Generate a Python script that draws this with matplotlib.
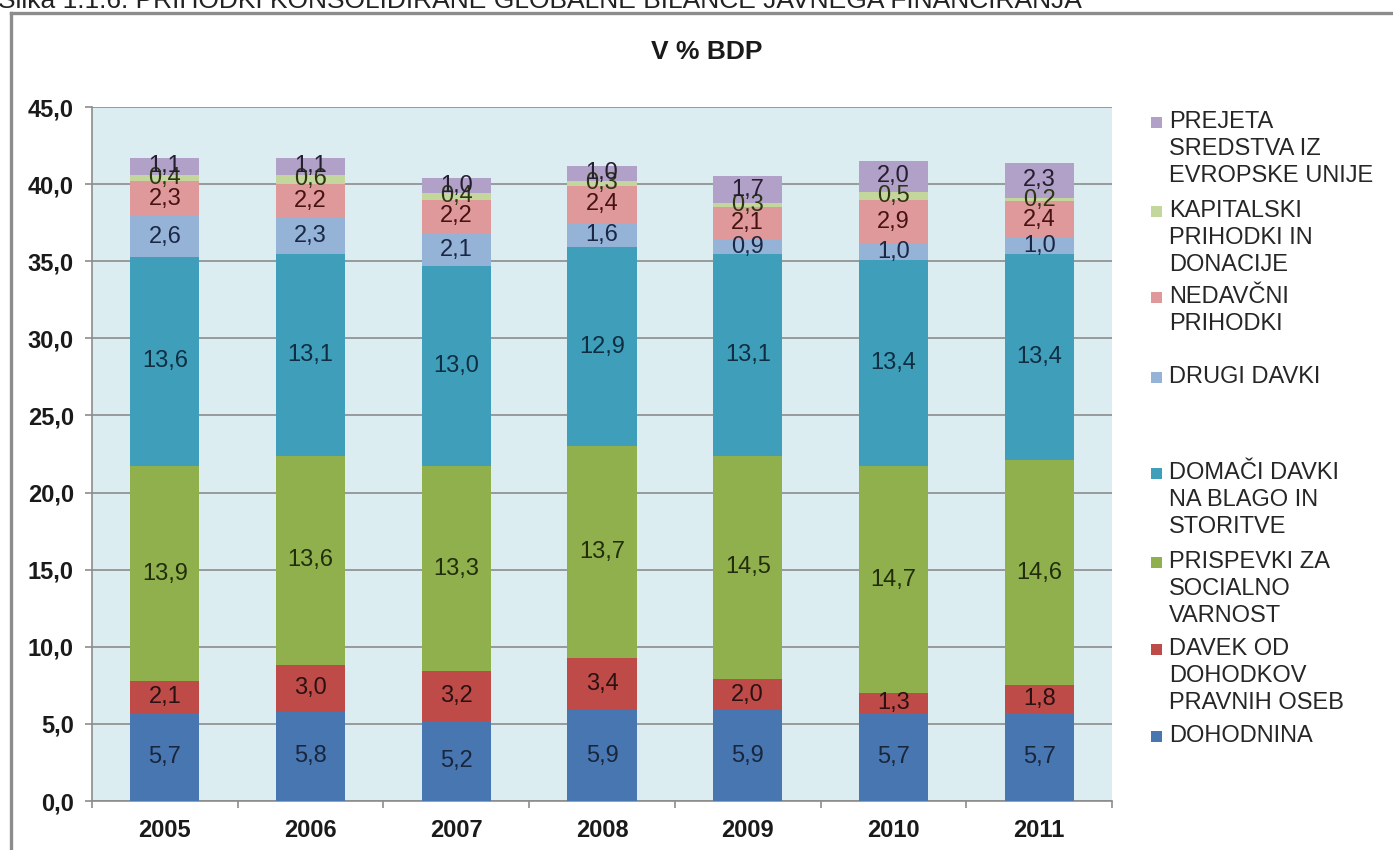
import matplotlib
matplotlib.use('Agg')
import matplotlib.pyplot as plt
from matplotlib.lines import Line2D
from matplotlib.patches import Rectangle
import numpy as np

plt.rcParams['font.family'] = ['Liberation Sans', 'DejaVu Sans']

years = ['2005', '2006', '2007', '2008', '2009', '2010', '2011']

# series, bottom to top
dohodnina = [5.7, 5.8, 5.2, 5.9, 5.9, 5.7, 5.7]
davek_pravnih = [2.1, 3.0, 3.2, 3.4, 2.0, 1.3, 1.8]
prispevki = [13.9, 13.6, 13.3, 13.7, 14.5, 14.7, 14.6]
domaci_davki = [13.6, 13.1, 13.0, 12.9, 13.1, 13.4, 13.4]
drugi_davki = [2.6, 2.3, 2.1, 1.6, 0.9, 1.0, 1.0]
nedavcni = [2.3, 2.2, 2.2, 2.4, 2.1, 2.9, 2.4]
kapitalski = [0.4, 0.6, 0.4, 0.3, 0.3, 0.5, 0.2]
eu_sredstva = [1.1, 1.1, 1.0, 1.0, 1.7, 2.0, 2.3]

series_names = [
    'DOHODNINA',
    'DAVEK OD\nDOHODKOV\nPRAVNIH OSEB',
    'PRISPEVKI ZA\nSOCIALNO\nVARNOST',
    'DOMAČI DAVKI\nNA BLAGO IN\nSTORITVE',
    'DRUGI DAVKI',
    'NEDAVČNI\nPRIHODKI',
    'KAPITALSKI\nPRIHODKI IN\nDONACIJE',
    'PREJETA\nSREDSTVA IZ\nEVROPSKE UNIJE',
]
series = [dohodnina, davek_pravnih, prispevki, domaci_davki,
          drugi_davki, nedavcni, kapitalski, eu_sredstva]

colors = ['#4876b0', '#be4b48', '#8fb04c', '#3f9fbb',
          '#95b3d7', '#e0999a', '#c3d69b', '#b1a0c7']
label_colors = ['#18263e', '#2a1212', '#222d0c', '#102e42',
                '#1a2846', '#461212', '#2c3612', '#251e30']

W, H = 1393, 850
fig = plt.figure(figsize=(W / 100, H / 100), dpi=100, facecolor='white')

# heading cut off at the top of the page
fig.text(-2 / W, 1 - 8 / H,
         'Slika 1.1.6: PRIHODKI KONSOLIDIRANE GLOBALNE BILANCE JAVNEGA FINANCIRANJA',
         fontsize=19, color='#222222', va='baseline', ha='left')

# chart frame
fig.add_artist(Line2D([11 / W, 11 / W], [0, 1 - 13 / H], color='#8c8c8c', lw=2.4))
fig.add_artist(Line2D([11 / W, 1], [1 - 13 / H, 1 - 13 / H], color='#8c8c8c', lw=2.4))

ax = fig.add_axes([92 / W, 1 - 801 / H, (1112 - 92) / W, (801 - 107) / H])
ax.set_facecolor('#dcedf2')

x = np.arange(len(years))
bottom = np.zeros(len(years))
for vals, name, c, lc in zip(series, series_names, colors, label_colors):
    bars = ax.bar(x, vals, width=0.475, bottom=bottom, color=c, label=name, zorder=3)
    ax.bar_label(bars, labels=[f'{v:.1f}'.replace('.', ',') for v in vals],
                 label_type='center', fontsize=17, color=lc, zorder=4)
    bottom += np.array(vals)

ax.set_xlim(-0.5, len(years) - 0.5)
ax.set_ylim(0, 45)
ax.set_yticks(np.arange(0, 46, 5))
ax.set_yticklabels([f'{v:.1f}'.replace('.', ',') for v in np.arange(0, 46, 5)],
                   fontsize=17, fontweight='bold', color='#1a1a1a')
ax.set_xticks(x)
ax.set_xticklabels(years, fontsize=17, fontweight='bold', color='#1a1a1a')
ax.set_xticks(np.arange(-0.5, len(years)), minor=True)
ax.tick_params(axis='x', which='major', length=0, pad=13)
ax.tick_params(axis='x', which='minor', length=5, color='#8c8c8c', width=1.2)
ax.tick_params(axis='y', length=5, color='#8c8c8c', width=1.2, pad=8)
ax.yaxis.grid(True, color='#8c8c8c', lw=1.2, zorder=1)
ax.set_axisbelow(True)
for s in ['top', 'right']:
    ax.spines[s].set_visible(False)
for s in ['left', 'bottom']:
    ax.spines[s].set_color('#8c8c8c')
    ax.spines[s].set_linewidth(1.2)

fig.text(707 / W, 1 - 52 / H, 'V % BDP', fontsize=19, fontweight='bold',
         ha='center', va='center', color='#1a1a1a')

# legend, top entry first
legend_y = [122, 211, 297, 377, 473, 562, 649, 736]
line_h = 27
for name, c, y0 in zip(series_names[::-1], colors[::-1], legend_y):
    fig.add_artist(Rectangle((1151 / W, 1 - (y0 + 6) / H), 11 / W, 11 / H,
                             facecolor=c, edgecolor='none'))
    for i, line in enumerate(name.split('\n')):
        fig.text(1169 / W, 1 - (y0 + i * line_h) / H, line, fontsize=17,
                 color='#262626', ha='left', va='center')

fig.savefig('out.png', dpi=100)
plt.close(fig)
